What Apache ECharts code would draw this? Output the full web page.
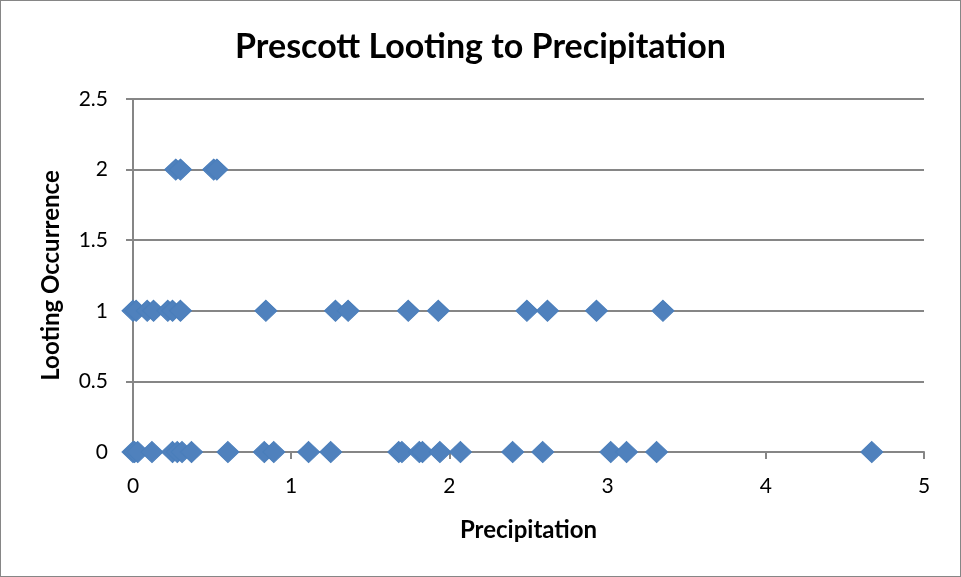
<!DOCTYPE html>
<html>
<head>
<meta charset="utf-8">
<script src="https://cdn.jsdelivr.net/npm/echarts@6/dist/echarts.min.js"></script>
<style>
  html, body { margin: 0; padding: 0; background: #fff; }
  #chart { width: 959px; height: 575px; border: 1px solid #868686; }
</style>
</head>
<body>
<div id="chart"></div>
<script>
// precipitation values for each looting occurrence level
const precipLoot0 = [0, 0.01, 0.03, 0.12, 0.25, 0.28, 0.31, 0.37, 0.60, 0.83, 0.89, 1.11, 1.25,
  1.68, 1.70, 1.81, 1.83, 1.94, 2.07, 2.40, 2.59, 3.02, 3.12, 3.31, 4.67];
const precipLoot1 = [0, 0.02, 0.09, 0.13, 0.22, 0.25, 0.30, 0.84, 1.28, 1.36, 1.74, 1.93,
  2.49, 2.62, 2.93, 3.35];
const precipLoot2 = [0.27, 0.30, 0.51, 0.53];
const yTicks = ['0', '0.5', '1', '1.5', '2', '2.5'];

const points = []
precipLoot0.forEach(x => points.push([x, 0]))
precipLoot1.forEach(x => points.push([x, 1]))
precipLoot2.forEach(x => points.push([x, 2]))

const gray = '#868686'
const font = 'Lato, "Open Sans", sans-serif'

const chart = echarts.init(document.getElementById('chart'))
chart.setOption({
  animation: false,
  title: {
    text: 'Prescott Looting to Precipitation',
    left: 'center',
    top: 24,
    textStyle: { fontFamily: font, fontSize: 34, fontWeight: 'bold', color: '#000' }
  },
  grid: { left: 132, right: 36, top: 98, bottom: 124 },
  xAxis: {
    type: 'value',
    min: 0, max: 5, interval: 1,
    name: 'Precipitation',
    nameLocation: 'middle',
    nameGap: 66,
    nameMoveOverlap: false,
    nameTextStyle: { fontFamily: font, fontSize: 24, fontWeight: 'bold', color: '#000' },
    axisLine: { show: true, lineStyle: { color: gray, width: 2 } },
    axisTick: { show: true, length: 7, lineStyle: { color: gray, width: 2 } },
    splitLine: { show: false },
    axisLabel: { fontFamily: font, fontSize: 21, color: '#000', margin: 24 }
  },
  yAxis: {
    type: 'value',
    min: 0, max: 2.5, interval: 0.5,
    name: 'Looting Occurrence',
    nameLocation: 'middle',
    nameGap: 70,
    nameMoveOverlap: false,
    nameTextStyle: { fontFamily: font, fontSize: 24, fontWeight: 'bold', color: '#000' },
    axisLine: { show: true, lineStyle: { color: gray, width: 2 } },
    axisTick: { show: true, length: 7, lineStyle: { color: gray, width: 2 } },
    splitLine: { show: true, lineStyle: { color: gray, width: 2 } },
    axisLabel: {
      fontFamily: font, fontSize: 21, color: '#000', margin: 25,
      formatter: (v) => yTicks[Math.round(v * 2)]
    }
  },
  series: [{
    type: 'scatter',
    data: points,
    symbol: 'diamond',
    symbolSize: [22, 21],
    itemStyle: { color: '#4F81BD', borderColor: '#4A7EBB', borderWidth: 1, opacity: 1 }
  }]
})
</script>
</body>
</html>
